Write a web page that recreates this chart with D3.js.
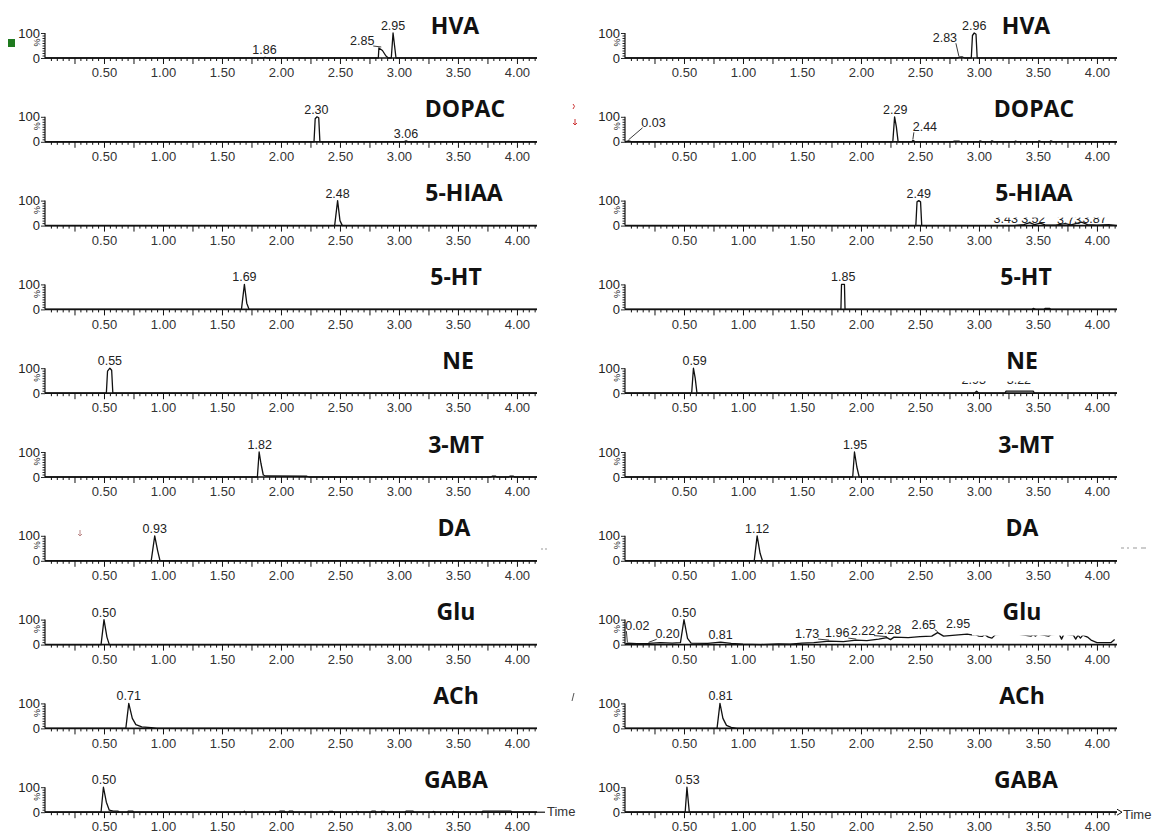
<!DOCTYPE html>
<html>
<head>
<meta charset="utf-8">
<script src="https://cdn.jsdelivr.net/npm/d3@7"></script>
<style>
  body { margin: 0; background: #fff; }
  svg { display: block; }
</style>
</head>
<body>
<svg id="chart" width="1157" height="836"></svg>
<script>
// ---------------- data ----------------
const compounds = ["HVA", "DOPAC", "5-HIAA", "5-HT", "NE", "3-MT", "DA", "Glu", "ACh", "GABA"];
const timeTicks = [0.5, 1.0, 1.5, 2.0, 2.5, 3.0, 3.5, 4.0];
const timeMax = 4.17;

// chromatogram traces, [retention time (min), relative intensity (%)]
const tracesLeft = [
  [[0,0],[1.85,0],[1.865,3],[1.88,0],[2.825,0],[2.83,40],[2.86,30],[2.89,8],[2.91,0],[2.935,0],[2.95,100],[2.975,0],[4.17,0]],
  [[0,0],[2.28,0],[2.29,92],[2.305,100],[2.32,96],[2.33,0],[3.04,0],[3.06,4],[3.08,0],[4.17,0]],
  [[0,0],[2.455,0],[2.48,100],[2.50,20],[2.52,0],[4.17,0]],
  [[0,0],[1.665,0],[1.69,100],[1.71,25],[1.73,0],[4.17,0]],
  [[0,0],[0.52,0],[0.53,88],[0.55,100],[0.565,92],[0.575,0],[4.17,0]],
  [[0,0],[1.80,0],[1.815,100],[1.83,55],[1.85,8],[1.87,4],[2.22,3],[2.24,0],[3.78,0],[3.79,3],[3.82,3],[3.83,0],[3.93,0],[3.94,3],[3.97,3],[3.98,0],[4.17,0]],
  [[0,0],[0.90,0],[0.93,100],[0.955,40],[0.975,0],[4.17,0]],
  [[0,0],[0.475,0],[0.50,100],[0.525,30],[0.545,0],[4.17,0]],
  [[0,0],[0.685,0],[0.71,100],[0.74,40],[0.77,15],[0.82,6],[0.90,3],[0.95,0],[4.17,0]],
  [[0,0],[0.475,0],[0.495,100],[0.52,40],[0.545,8],[0.58,4],[0.62,4],[0.63,0],[0.70,0],[0.705,4],[0.745,4],[0.75,0],
   [1.68,0],[1.69,4],[1.70,0],[1.83,0],[1.84,3],[1.85,0],[1.98,0],[1.99,4],[2.03,4],[2.04,0],[2.06,0],[2.07,4],[2.10,4],[2.11,0],
   [2.40,0],[2.41,3],[2.44,3],[2.45,0],[2.63,0],[2.64,3],[2.66,0],[2.76,0],[2.77,4],[2.80,4],[2.81,0],[2.84,0],[2.85,3],[2.88,3],[2.89,0],
   [3.05,0],[3.06,4],[3.12,4],[3.13,0],[3.28,0],[3.29,3],[3.31,0],[3.45,0],[3.46,3],[3.49,0],[3.70,0],[3.71,4],[3.95,4],[3.96,0],[4.17,0]]
];

const tracesRight = [
  [[0,0],[2.82,0],[2.83,3],[2.86,4],[2.88,0],[2.935,0],[2.945,90],[2.96,100],[2.975,95],[2.985,0],[4.17,0]],
  [[0,0],[0.03,4],[0.06,0],[2.27,0],[2.285,100],[2.30,60],[2.315,0],[2.43,0],[2.44,6],[2.46,0],[2.78,0],[2.79,3],[2.83,3],[2.84,0],
   [3.00,0],[3.01,4],[3.03,0],[3.10,0],[3.11,4],[3.13,0],[3.30,0],[3.31,3],[3.33,0],[3.50,0],[3.51,4],[3.53,0],[3.60,0],[3.61,4],[3.63,0],[4.17,0]],
  [[0,0],[2.465,0],[2.475,95],[2.49,100],[2.505,95],[2.515,0],[3.30,0],[3.38,4],[3.43,12],[3.47,4],[3.52,10],[3.56,3],[3.65,2],[3.73,8],[3.78,3],[3.87,14],[3.92,4],[4.00,2],[4.10,4],[4.17,0]],
  [[0,0],[1.83,0],[1.835,100],[1.86,100],[1.865,0],[3.45,0],[3.46,4],[3.48,0],[3.55,0],[3.56,4],[3.60,4],[3.61,0],[4.17,0]],
  [[0,0],[0.565,0],[0.58,100],[0.595,60],[0.61,0],[2.96,0],[2.98,8],[3.00,0],[3.22,0],[3.23,8],[3.46,8],[3.47,0],[4.17,0]],
  [[0,0],[1.93,0],[1.945,100],[1.965,40],[1.985,0],[4.17,0]],
  [[0,0],[1.095,0],[1.12,100],[1.145,30],[1.165,0],[4.17,0]],
  [[0,0],[0.02,6],[0.10,4],[0.20,5],[0.30,8],[0.40,6],[0.47,8],[0.50,100],[0.53,25],[0.56,6],[0.70,5],[0.81,10],[0.90,5],[1.00,2],[1.15,0],
   [1.30,3],[1.40,2],[1.50,6],[1.60,8],[1.73,14],[1.85,12],[1.96,18],[2.05,16],[2.15,22],[2.22,28],[2.25,20],[2.28,30],[2.40,28],[2.50,32],
   [2.60,34],[2.65,48],[2.70,34],[2.80,38],[2.90,42],[2.95,38],[2.97,40],[3.00,34],[3.03,33],[3.05,40],[3.08,30],[3.11,26],[3.14,40],
   [3.30,44],[3.44,34],[3.46,40],[3.48,34],[3.50,42],[3.59,34],[3.61,40],[3.68,42],[3.70,22],[3.72,42],[3.80,38],[3.82,22],[3.84,38],
   [3.86,26],[3.88,38],[3.92,30],[3.95,18],[4.00,8],[4.12,8],[4.15,20]],
  [[0,0],[0.78,0],[0.805,100],[0.83,40],[0.86,12],[0.90,4],[0.95,0],[4.17,0]],
  [[0,0],[0.51,0],[0.525,100],[0.545,0],[4.17,0]]
];

// peak annotations, [retention time, intensity %, label]
const peaksLeft = [
  [[1.86,3,"1.86"],[2.85,40,"2.85"],[2.95,100,"2.95"]],
  [[2.30,100,"2.30"],[3.06,4,"3.06"]],
  [[2.48,100,"2.48"]],
  [[1.69,100,"1.69"]],
  [[0.55,100,"0.55"]],
  [[1.82,100,"1.82"]],
  [[0.93,100,"0.93"]],
  [[0.50,100,"0.50"]],
  [[0.71,100,"0.71"]],
  [[0.50,100,"0.50"]]
];

const peaksRight = [
  [[2.83,3,"2.83"],[2.96,100,"2.96"]],
  [[0.03,4,"0.03"],[2.29,100,"2.29"],[2.44,6,"2.44"]],
  [[2.49,100,"2.49"],[3.43,12,"3.43"],[3.52,10,"3.52"],[3.73,8,"3.73"],[3.87,14,"3.87"]],
  [[1.85,100,"1.85"]],
  [[0.59,100,"0.59"],[2.93,8,"2.93"],[3.22,8,"3.22"]],
  [[1.95,100,"1.95"]],
  [[1.12,100,"1.12"]],
  [[0.02,6,"0.02"],[0.20,5,"0.20"],[0.50,100,"0.50"],[0.81,10,"0.81"],[1.73,14,"1.73"],[1.96,18,"1.96"],
   [2.22,28,"2.22"],[2.28,30,"2.28"],[2.65,48,"2.65"],[2.95,38,"2.95"]],
  [[0.81,100,"0.81"]],
  [[0.53,100,"0.53"]]
];

// ---------------- layout ----------------
const colX = [45, 625];
const axisLen = 492;
const rowY = i => 58 + i * 83.8;
const plotH = 25;
const titleX = [[455, 1026], [465, 1034], [464, 1034], [456, 1026], [458, 1022],
                [456, 1026], [454, 1022], [456, 1022], [456, 1022], [456, 1026]];

// label offsets in px: [dx, dy, draw leader]
const labelShift = {
  "L0:2.85": [-19, 0, true],
  "R0:2.83": [-14, -12, true],
  "R1:0.03": [25, -11, true],
  "R1:2.44": [12, -6, true],
  "R2:3.43": [-24, 3, false],
  "R2:3.52": [-7, 3, false],
  "R2:3.73": [4, 3, false],
  "R2:3.87": [13, 4, false],
  "R4:2.93": [3, -4, false],
  "R4:3.22": [14, -4, false],
  "R7:0.02": [10, -10, true],
  "R7:0.20": [19, -2, true],
  "R7:1.73": [-22, 0, true],
  "R7:1.96": [-19, 0, true],
  "R7:2.22": [-24, 0, true],
  "R7:2.28": [-5, 0, false],
  "R7:2.65": [-14, -1, true],
  "R7:2.95": [-15, -4, false]
};

// opaque title backgrounds: [row, side, x0, x1, bottom offset above axis]
const titleBoxes = [
  [2, 1, 990, 1115, 8],
  [4, 1, 960, 1115, 12],
  [7, 1, 972, 1115, 9]
];

// ---------------- drawing ----------------
const svg = d3.select("#chart");
const x = d3.scaleLinear().domain([0, timeMax]).range([0, axisLen]);
const y = d3.scaleLinear().domain([0, 100]).range([0, -plotH]);
const line = d3.line().x(d => x(d[0])).y(d => y(d[1]));

const FONT = "'Liberation Sans', Arial, sans-serif";
const minorTicks = d3.range(1, 84).filter(i => i % 5 !== 0).map(i => i * 0.05);
const midTicks = d3.range(1, 17).map(i => i * 0.25);

function drawPanel(side, row, trace, peaks) {
  const ox = colX[side], oy = rowY(row);
  const g = svg.append("g").attr("transform", `translate(${ox},${oy})`);
  const key = (side ? "R" : "L") + row;

  // trace
  g.append("path").datum(trace)
    .attr("d", line)
    .attr("fill", "none")
    .attr("stroke", "#111")
    .attr("stroke-width", 1.3)
    .attr("stroke-linejoin", "round");

  // peak labels
  peaks.forEach(([rt, pct, txt]) => {
    const sh = labelShift[`${key}:${txt}`] || [0, 0, false];
    const px = x(rt), py = y(pct);
    const tx = px + sh[0], ty = py - 3 + sh[1];
    if (sh[2]) {
      const cx = sh[0] < 0 ? tx + 11 : tx - 11;
      g.append("line")
        .attr("x1", cx).attr("y1", ty + 1)
        .attr("x2", px).attr("y2", py - 1)
        .attr("stroke", "#222").attr("stroke-width", 0.9);
    }
    g.append("text")
      .attr("x", tx).attr("y", ty)
      .attr("text-anchor", "middle")
      .attr("font-family", FONT)
      .attr("font-size", 12.5)
      .attr("fill", "#222")
      .text(txt);
  });

  // opaque title box
  titleBoxes.filter(b => b[0] === row && b[1] === side).forEach(b => {
    svg.append("rect")
      .attr("x", b[2]).attr("y", oy - 48)
      .attr("width", b[3] - b[2]).attr("height", 48 - b[4])
      .attr("fill", "#fff");
  });

  // x axis: minor, quarter and labelled ticks
  const ax = svg.append("g").attr("transform", `translate(${ox},${oy})`);
  ax.append("g").call(d3.axisBottom(x).tickValues(minorTicks).tickSize(3).tickFormat(""))
    .call(a => a.select(".domain").remove());
  ax.append("g").call(d3.axisBottom(x).tickValues(midTicks).tickSize(6).tickFormat(""))
    .call(a => a.select(".domain").remove());
  ax.append("g").call(d3.axisBottom(x).tickValues(timeTicks).tickSize(0).tickPadding(10).tickFormat(d3.format(".2f")))
    .call(a => a.select(".domain").remove())
    .call(a => a.selectAll("text").attr("font-family", FONT).attr("font-size", 13).attr("fill", "#333"));
  ax.selectAll(".tick line").attr("stroke", "#111").attr("stroke-width", 1);
  ax.append("line").attr("x1", 0).attr("x2", axisLen).attr("y1", 0).attr("y2", 0)
    .attr("stroke", "#111").attr("stroke-width", 1.7);

  // y axis
  const ay = svg.append("g").attr("transform", `translate(${ox},${oy})`);
  ay.append("g").call(d3.axisLeft(y).tickValues(d3.range(10, 100, 10)).tickSize(2.5).tickFormat(""))
    .call(a => a.select(".domain").remove());
  ay.append("g").call(d3.axisLeft(y).tickValues([0, 100]).tickSize(4).tickPadding(1).tickFormat(d => String(d)))
    .call(a => a.select(".domain").remove())
    .call(a => a.selectAll("text").attr("font-family", FONT).attr("font-size", 13).attr("fill", "#222"));
  ay.selectAll(".tick line").attr("stroke", "#111").attr("stroke-width", 0.9);
  ay.append("line").attr("x1", 0).attr("x2", 0).attr("y1", 0).attr("y2", y(100))
    .attr("stroke", "#111").attr("stroke-width", 1.2);
  ay.append("text")
    .attr("transform", `translate(-5,${y(62)}) rotate(-90)`)
    .attr("text-anchor", "middle")
    .attr("font-family", FONT).attr("font-size", 9).attr("fill", "#222")
    .text("%");

  // compound name
  svg.append("text")
    .attr("x", titleX[row][side]).attr("y", oy - 24.5)
    .attr("text-anchor", "middle")
    .attr("font-family", "'Open Sans', 'Noto Sans', sans-serif")
    .attr("font-weight", 700)
    .attr("font-size", 23)
    .attr("fill", "#111")
    .text(compounds[row]);
}

compounds.forEach((c, i) => {
  drawPanel(0, i, tracesLeft[i], peaksLeft[i]);
  drawPanel(1, i, tracesRight[i], peaksRight[i]);
});

// time axis caption on the bottom row
const lastY = rowY(compounds.length - 1);
svg.append("line")
  .attr("x1", colX[0] + axisLen).attr("x2", colX[0] + axisLen + 8)
  .attr("y1", lastY).attr("y2", lastY).attr("stroke", "#111").attr("stroke-width", 1.2);
svg.append("text").attr("x", 547).attr("y", lastY + 4)
  .attr("font-family", FONT).attr("font-size", 13).attr("fill", "#333").text("Time");
svg.append("path")
  .attr("d", `M${colX[1] + axisLen},${lastY - 3} L${colX[1] + axisLen + 5},${lastY} L${colX[1] + axisLen},${lastY + 3}`)
  .attr("fill", "none").attr("stroke", "#111").attr("stroke-width", 1);
svg.append("text").attr("x", 1123).attr("y", lastY + 7)
  .attr("font-family", FONT).attr("font-size", 13).attr("fill", "#333").text("Time");

// channel marker and stray cursor marks
svg.append("rect").attr("x", 8).attr("y", 39).attr("width", 7).attr("height", 8).attr("fill", "#1f7a1f");
svg.append("path").attr("d", "M573,104 q3,2 0,5").attr("fill", "none").attr("stroke", "#c33").attr("stroke-width", 1);
svg.append("path").attr("d", "M575,119 v6 M573,123 l2,2 l2,-2").attr("fill", "none").attr("stroke", "#c33").attr("stroke-width", 1);
svg.append("path").attr("d", "M80,530 v6 M78,534 l2,2 l2,-2").attr("fill", "none").attr("stroke", "#b88").attr("stroke-width", 1);
svg.append("path").attr("d", "M574,693 l-2,8").attr("fill", "none").attr("stroke", "#555").attr("stroke-width", 1);
svg.append("path").attr("d", "M541,549 h2 M545,549 h2 M1121,548 h3 M1127,548 h2 M1133,548 h4 M1141,548 h5")
  .attr("fill", "none").attr("stroke", "#999").attr("stroke-width", 1);
</script>
</body>
</html>
